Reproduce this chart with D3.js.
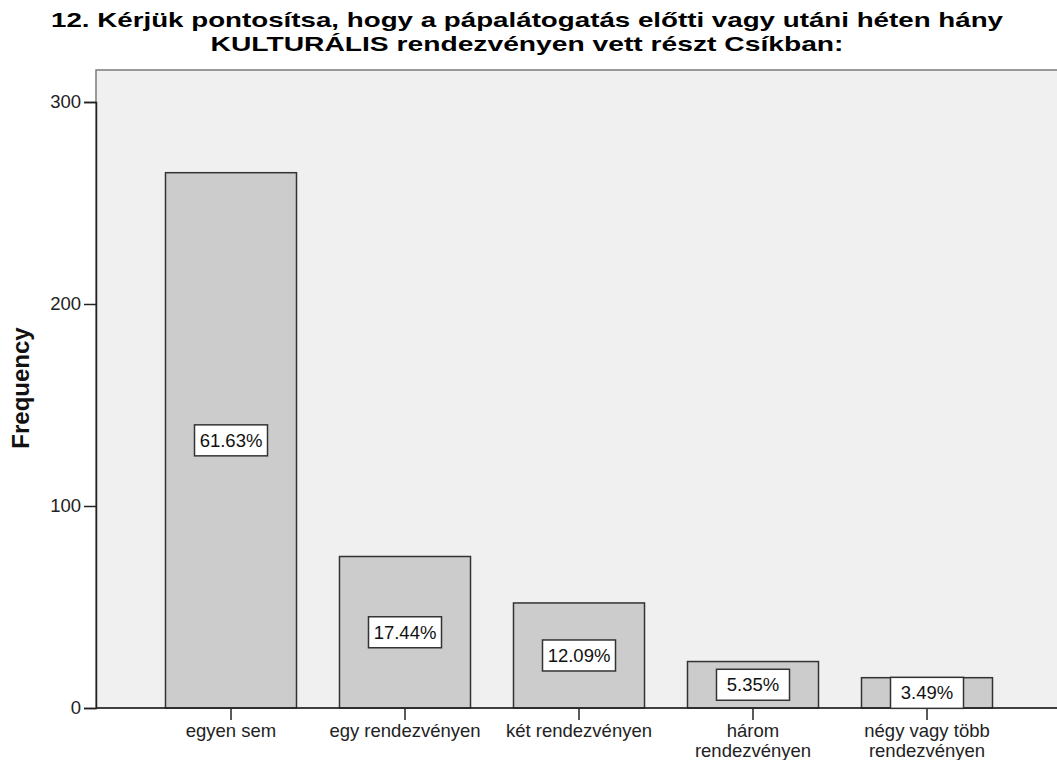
<!DOCTYPE html>
<html><head><meta charset="utf-8">
<script src="https://cdn.jsdelivr.net/npm/d3@7"></script>
<style>
body{margin:0;background:#fff;}
svg{display:block;font-family:"Liberation Sans",Arial,sans-serif;}
</style></head>
<body>
<svg id="c" width="1057" height="760"></svg>
<script>
const titleLines = ["12. Kérjük pontosítsa, hogy a pápalátogatás előtti vagy utáni héten hány",
                    "KULTURÁLIS rendezvényen vett részt Csíkban:"];
const categories = ["egyen sem","egy rendezvényen","két rendezvényen","három rendezvényen","négy vagy több rendezvényen"];
const categoryLines = [["egyen sem"],["egy rendezvényen"],["két rendezvényen"],["három","rendezvényen"],["négy vagy több","rendezvényen"]];
const frequencies = [265, 75, 52, 23, 15];
const percentLabels = ["61.63%","17.44%","12.09%","5.35%","3.49%"];
const yTicks = [0,100,200,300];
const yLabel = "Frequency";

const svg = d3.select("#c");
const plotL = 96, plotT = 70, plotB = 708, plotR = 1070;
const x = d3.scaleBand().domain(categories).range([144, 1014]).paddingInner(0.247).paddingOuter(0.1235);
const y = d3.scaleLinear().domain([0,300]).range([plotB, 102]);

// plot background
svg.append("rect").attr("x",plotL).attr("y",plotT).attr("width",plotR-plotL).attr("height",plotB-plotT)
  .attr("fill","#f0f0f0").attr("stroke","#7a7a7a").attr("stroke-width",1.5);

// bars
svg.selectAll("rect.bar").data(frequencies).join("rect").attr("class","bar")
  .attr("x",(d,i)=>x(categories[i])).attr("y",d=>y(d))
  .attr("width",x.bandwidth()).attr("height",d=>y(0)-y(d))
  .attr("fill","#cccccc").attr("stroke","#333").attr("stroke-width",1.5);

// y axis
const yAxis = svg.append("g").attr("transform",`translate(${plotL},0)`)
  .call(d3.axisLeft(y).tickValues(yTicks).tickSize(12).tickPadding(3).tickFormat(d3.format("d")));
yAxis.select(".domain").attr("stroke","#222").attr("stroke-width",1.5);
yAxis.selectAll(".tick line").attr("stroke","#222").attr("stroke-width",1.5);
yAxis.selectAll("text").attr("font-size",18.5).attr("fill","#222").attr("font-family","Liberation Sans, Arial, sans-serif");

// x axis
const xAxis = svg.append("g").attr("transform",`translate(0,${plotB})`)
  .call(d3.axisBottom(x).tickSize(12).tickFormat(""));
xAxis.select(".domain").attr("d",`M${plotL},0H${plotR}`).attr("stroke","#222").attr("stroke-width",1.5);
xAxis.selectAll(".tick line").attr("stroke","#222").attr("stroke-width",1.5);
xAxis.selectAll(".tick").each(function(d,i){
  const t = d3.select(this).append("text").attr("fill","#222").attr("font-size",18.5)
    .attr("text-anchor","middle").attr("font-family","Liberation Sans, Arial, sans-serif");
  categoryLines[i].forEach((ln,j)=>t.append("tspan").attr("x",0).attr("y",29+j*20).text(ln));
});

// percent labels
const lab = svg.selectAll("g.lab").data(frequencies).join("g").attr("class","lab")
  .attr("transform",(d,i)=>`translate(${x(categories[i])+x.bandwidth()/2},${(y(d)+y(0))/2})`);
lab.append("rect").attr("x",-36.5).attr("y",-15.5).attr("width",73).attr("height",31)
  .attr("fill","#fff").attr("stroke","#333").attr("stroke-width",1.5);
lab.append("text").attr("text-anchor","middle").attr("dy","0.35em").attr("font-size",18.5).attr("fill","#111")
  .text((d,i)=>percentLabels[i]);

// y label
svg.append("text").attr("transform","translate(29,388) rotate(-90)").attr("text-anchor","middle")
  .attr("font-weight","bold").attr("font-size",24).attr("fill","#111").text(yLabel);

// title
const tw = [952, 633];
titleLines.forEach((ln,i)=>{
  svg.append("text").attr("x",527).attr("y",27+i*24).attr("text-anchor","middle")
    .attr("font-weight","bold").attr("font-size",21).attr("fill","#000")
    .attr("textLength",tw[i]).attr("lengthAdjust","spacingAndGlyphs").text(ln);
});
</script>
</body></html>
